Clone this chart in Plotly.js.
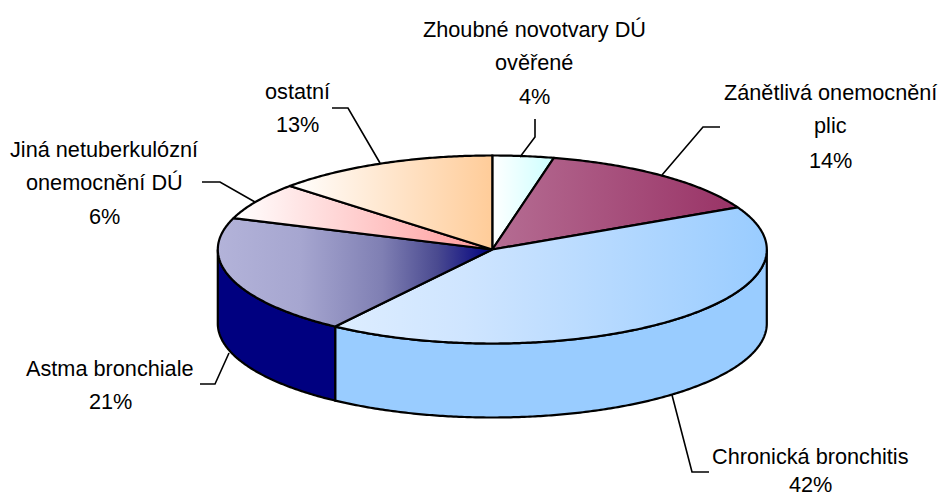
<!DOCTYPE html>
<html><head><meta charset="utf-8">
<script src="https://cdn.plot.ly/plotly-3.0.1.min.js"></script>
<style>html,body{margin:0;padding:0;background:#fff}</style></head>
<body><div id="chart" style="width:939px;height:498px"></div>
<script>
const categories = ["Zhoubné novotvary DÚ ověřené","Zánětlivá onemocnění plic","Chronická bronchitis","Astma bronchiale","Jiná netuberkulózní onemocnění DÚ","ostatní"];
const values = [3.6,14,42.1,20.7,6.4,13.2];
const gradients = [
 [[0,"#FFFFFF"],[1,"#CCFFFF"]],
 [[0,"#B56D93"],[1,"#993366"]],
 [[0,"#DDEDFF"],[0.3,"#CFE5FF"],[1,"#99CCFF"]],
 [[0,"#B3B3D9"],[0.3,"#A6A6D0"],[0.6,"#7F7FB3"],[0.8,"#4A4A90"],[1,"#000080"]],
 [[0,"#FFFFFF"],[1,"#FF9999"]],
 [[0,"#FFFFFF"],[1,"#FFCC99"]]
];
const sideColors = ["#CCFFFF","#993366","#99CCFF","#000080","#FF9999","#FFCC99"];

const labelLines = [
 {x:534,lines:["Zhoubné novotvary DÚ","ověřené"],ys:[29,62,96]},
 {x:830,lines:["Zánětlivá onemocnění","plic"],ys:[92,125,160]},
 {x:810,lines:["Chronická bronchitis"],ys:[456,484]},
 {x:110,lines:["Astma bronchiale"],ys:[368,401]},
 {x:104,lines:["Jiná netuberkulózní","onemocnění DÚ"],ys:[149,182,216]},
 {x:297,lines:["ostatní"],ys:[91,124]}
];
const leaders = [
 [[520,157],[535,137],[535,119]],
 [[662,175],[703,127],[720,127]],
 [[672,395],[692,472],[709,472]],
 [[229,353],[215,384],[200,384]],
 [[255,202],[220,182],[202,182]],
 [[380,163],[348,108],[332,108]]
];

const cx=492.3, cy=249.5, rx=274.5, ry=94, depth=74;
const pt=(t,dy=0)=>[cx+rx*Math.sin(t), cy-ry*Math.cos(t)+dy];
const arc=(a,b,dy=0)=>{const n=Math.max(2,Math.ceil(Math.abs(b-a)/0.01));const o=[];for(let i=0;i<=n;i++)o.push(pt(a+(b-a)*i/n,dy));return o;};
const total=values.reduce((s,v)=>s+v,0);
let acc=0;
const ranges=values.map(v=>{const a=acc/total*2*Math.PI;acc+=v;return [a,acc/total*2*Math.PI];});

const traces=[];
const poly=(pts,extra)=>({type:'scatter',mode:'lines',x:pts.map(p=>p[0]),y:pts.map(p=>p[1]),fill:'toself',
  line:{color:'#000',width:2.2,simplify:false},hoverinfo:'skip',showlegend:false,...extra});

// front wall
ranges.forEach(([a,b],i)=>{
  const lo=Math.max(a,Math.PI/2), hi=Math.min(b,3*Math.PI/2);
  if(hi<=lo) return;
  const top=arc(lo,hi), bot=arc(hi,lo,depth);
  traces.push(poly([...top,...bot,top[0]],{fillcolor:sideColors[i],name:categories[i]}));
});
// top face
ranges.forEach(([a,b],i)=>{
  const pts=[[cx,cy],...arc(a,b),[cx,cy]];
  traces.push(poly(pts,{name:categories[i],fillcolor:sideColors[i],
    fillgradient:{type:'horizontal',colorscale:gradients[i]}}));
});
// leaders
leaders.forEach(l=>traces.push({type:'scatter',mode:'lines',x:l.map(p=>p[0]),y:l.map(p=>p[1]),
  line:{color:'#000',width:1.6},hoverinfo:'skip',showlegend:false}));

const annotations=[];
labelLines.forEach((l,i)=>{
  [...l.lines,Math.round(values[i])+"%"].forEach((s,j)=>annotations.push({x:l.x,y:l.ys[j],xref:'x',yref:'y',text:s,showarrow:false,
    xanchor:'center',yanchor:'middle',font:{family:'"Liberation Sans",Arial,sans-serif',size:21.7,color:'#000'}}));
});

Plotly.newPlot('chart',traces,{
  width:939,height:498,margin:{l:0,r:0,t:0,b:0},paper_bgcolor:'#fff',plot_bgcolor:'#fff',showlegend:false,
  xaxis:{range:[0,939],visible:false,fixedrange:true},
  yaxis:{range:[498,0],visible:false,fixedrange:true},
  annotations
},{displayModeBar:false,staticPlot:true});
</script></body></html>
